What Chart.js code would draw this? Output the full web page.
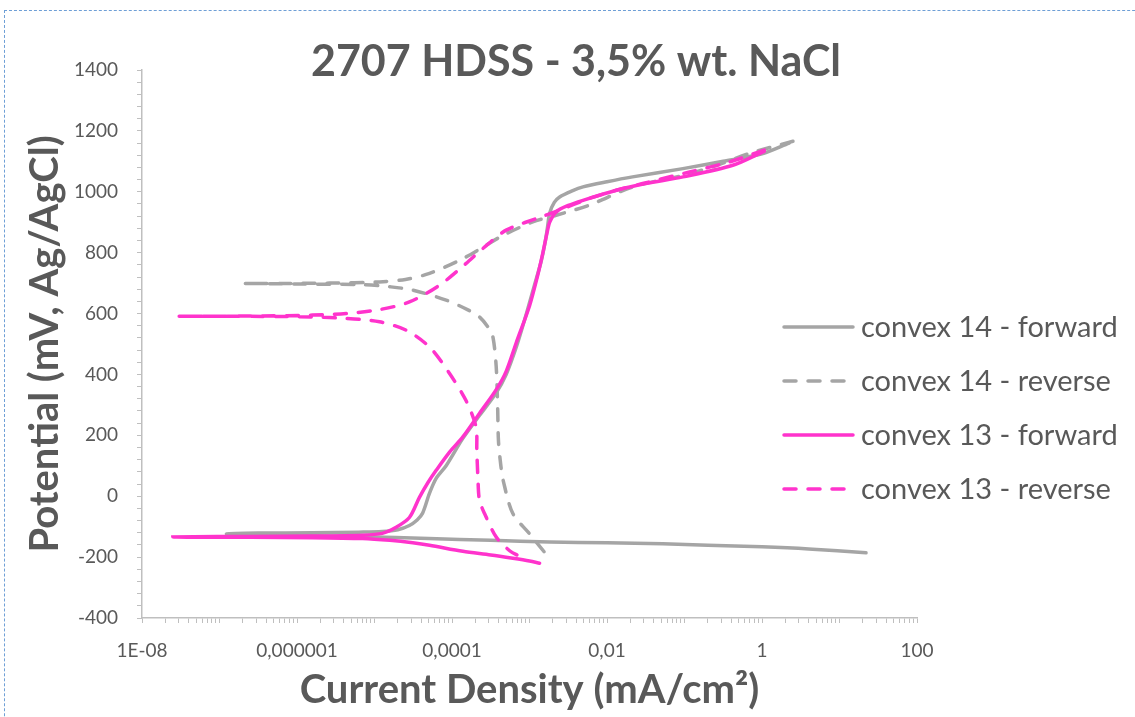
<!DOCTYPE html>
<html>
<head>
<meta charset="utf-8">
<script src="https://cdn.jsdelivr.net/npm/chart.js@4.4.1/dist/chart.umd.min.js"></script>
<style>
  html, body { margin: 0; padding: 0; background: #fff; }
  #wrap { position: relative; width: 1135px; height: 717px; overflow: hidden; }
  #frame { position: absolute; left: 4px; top: 10px; width: 1200px; height: 800px;
           border-top: 1px dashed #6e9fd6; border-left: 1px dashed #6e9fd6; pointer-events: none; }
</style>
</head>
<body>
<div id="wrap">
  <canvas id="myChart" width="1135" height="717"></canvas>
  <div id="frame"></div>
</div>
<script>
// Current density (mA/cm2) and potential (mV)
const c14fI = [22, 4.0, 1.0, 0.2, 5.25e-2, 1e-2, 1.82e-3, 3.16e-4, 5.0e-5, 7.1e-6, 1e-6, 2.5e-7, 1.23e-7,
  3.16e-7, 1.58e-6, 6.3e-6, 1.26e-5, 2.0e-5, 2.82e-5, 3.55e-5, 4.17e-5, 5.13e-5, 6.3e-5, 8.4e-5,
  1.38e-4, 2.26e-4, 3.72e-4, 5.0e-4, 6.76e-4, 8.9e-4, 1.12e-3, 1.41e-3, 1.58e-3, 1.70e-3, 1.82e-3,
  2.09e-3, 2.45e-3, 3.55e-3, 4.9e-3, 1e-2, 2.14e-2, 9.55e-2, 0.316, 1.0, 2.24];
const c14fE = [-186, -173, -166, -161, -156, -153, -150, -145, -139, -133, -129, -127, -124,
  -121, -120, -118, -116, -110, -96, -78, -56, 10, 60, 100,
  190, 265, 340, 400, 490, 590, 680, 770, 830, 880, 930,
  965, 983, 1003, 1016, 1033, 1049, 1076, 1100, 1125, 1160];

const c14rI = [2.51, 0.69, 0.25, 9.55e-2, 2.14e-2, 5.9e-3, 2.21e-3, 1.10e-3, 4.57e-4, 2.51e-4, 1.26e-4,
  5.13e-5, 2.51e-5, 1.16e-5, 2.63e-6, 6.3e-7, 2.09e-7, 1e-6, 7.1e-6, 1.58e-5, 3.13e-5, 8.4e-5,
  1.58e-4, 2.26e-4, 3.02e-4, 3.39e-4, 3.72e-4, 3.89e-4, 3.98e-4, 4.27e-4, 4.57e-4, 6.1e-4, 1e-3, 1.55e-3];
const c14rE = [1166, 1126, 1085, 1054, 1016, 956, 923, 901, 857, 818, 775,
  732, 712, 704, 700, 699, 699, 697, 695, 688, 677, 644,
  613, 589, 550, 520, 425, 283, 180, 100, 52, -57, -123, -183];

const c13fI = [1.35e-3, 1e-3, 6.1e-4, 3.16e-4, 1.38e-4, 5.13e-5, 3.12e-5, 1.58e-5, 7.0e-6, 1.58e-6, 2.5e-7,
  2.5e-8, 2.5e-7, 1.58e-6, 7.0e-6, 1.26e-5, 1.9e-5, 2.82e-5, 3.8e-5, 4.9e-5, 6.25e-5, 9.3e-5,
  1.38e-4, 2.26e-4, 3.72e-4, 5.0e-4, 6.76e-4, 1.0e-3, 1.26e-3, 1.48e-3, 1.70e-3, 1.82e-3, 2.21e-3,
  3.16e-3, 4.9e-3, 1.32e-2, 3.16e-2, 9.55e-2, 0.42, 1.07];
const c13fE = [-220, -213, -204, -193, -181, -161, -153, -145, -139, -136, -135,
  -134, -132, -131, -128, -122, -102, -70, -4, 45, 85, 145,
  195, 272, 350, 410, 505, 625, 720, 797, 870, 900, 934,
  955, 972, 1005, 1027, 1049, 1087, 1133];

const c13rI = [1.07, 0.38, 0.116, 2.88e-2, 1.32e-2, 5.9e-3, 2.45e-3, 1.23e-3, 5.0e-4, 2.51e-4, 1.51e-4,
  6.9e-5, 2.82e-5, 1.16e-5, 4.3e-6, 1.58e-6, 3.16e-7, 3.0e-8, 9.8e-7, 4.3e-6, 1.16e-5, 2.57e-5,
  5.13e-5, 9.3e-5, 1.51e-4, 2.04e-4, 2.09e-4, 2.16e-4, 2.26e-4, 2.63e-4, 3.72e-4, 5.6e-4, 7.4e-4];
const c13rE = [1137, 1098, 1065, 1027, 1005, 978, 940, 912, 874, 814, 764,
  693, 638, 613, 600, 595, 592, 591, 590, 584, 573, 545,
  490, 403, 315, 228, 150, 60, -13, -57, -134, -180, -197];

const seriesNames = ['convex 14 - forward', 'convex 14 - reverse', 'convex 13 - forward', 'convex 13 - reverse'];
const xLabelValues = [1e-8, 1e-6, 1e-4, 1e-2, 1, 100];
const xLabelTexts = ['1E-08', '0,000001', '0,0001', '0,01', '1', '100'];
const yMin = -400, yMax = 1400, yLabelStep = 200, yMinorStep = 40;

const GRAY = '#a5a5a5';
const PINK = '#ff33cc';
const TEXT = '#595959';
const AXIS = '#bfbfbf';
const DASH = [12, 12];

Chart.defaults.font.family = 'Lato';
Chart.defaults.color = TEXT;

function pts(xs, ys) {
  return xs.map((x, i) => ({x: x, y: ys[i]}));
}

//Title and legend drawn over the plot, the way Excel places them
const overlay = {
  id: 'overlay',
  afterDraw(chart, args, o) {
    const ctx = chart.ctx;
    ctx.save();
    ctx.fillStyle = TEXT;
    ctx.font = 'bold 43px Lato';
    ctx.textAlign = 'center';
    ctx.textBaseline = 'middle';
    ctx.fillText(o.title, o.titleX, o.titleY);

    ctx.textAlign = 'left';
    ctx.font = '29px Lato';
    chart.data.datasets.forEach((ds, i) => {
      const y = o.legendTop + i * o.legendGap;
      ctx.beginPath();
      ctx.strokeStyle = ds.borderColor;
      ctx.lineWidth = ds.borderWidth;
      ctx.lineCap = 'round';
      ctx.setLineDash(ds.borderDash || []);
      ctx.moveTo(o.legendX, y);
      ctx.lineTo(o.legendX + o.lineLen, y);
      ctx.stroke();
      ctx.setLineDash([]);
      ctx.fillStyle = TEXT;
      ctx.fillText(ds.label, o.legendX + o.lineLen + 8, y + 1);
    });
    ctx.restore();
  }
};

function lineSet(label, data, color, dashed, order) {
  return {
    label: label,
    data: data,
    showLine: true,
    borderColor: color,
    backgroundColor: color,
    borderWidth: 3.5,
    borderDash: dashed ? DASH : [],
    borderCapStyle: 'round',
    pointRadius: 0,
    pointHoverRadius: 0,
    tension: 0.3,
    fill: false,
    order: order
  };
}

new Chart('myChart', {
  type: 'scatter',
  data: {
    datasets: [
      lineSet(seriesNames[0], pts(c14fI, c14fE), GRAY, false, 4),
      lineSet(seriesNames[1], pts(c14rI, c14rE), GRAY, true, 3),
      lineSet(seriesNames[2], pts(c13fI, c13fE), PINK, false, 2),
      lineSet(seriesNames[3], pts(c13rI, c13rE), PINK, true, 1)
    ]
  },
  options: {
    responsive: false,
    devicePixelRatio: 1,
    animation: false,
    layout: { padding: { top: 70, right: 218, left: 0, bottom: 0 } },
    plugins: {
      legend: { display: false },
      tooltip: { enabled: false },
      overlay: {
        title: '2707 HDSS - 3,5% wt. NaCl',
        titleX: 576, titleY: 62,
        legendX: 784, legendTop: 327, legendGap: 54, lineLen: 69
      }
    },
    scales: {
      x: {
        type: 'logarithmic',
        min: 1e-8,
        max: 100,
        afterFit(scale) { scale.height = 99; },
        afterBuildTicks(scale) {
          const t = [];
          for (let e = -8; e <= 2; e++) {
            for (let m = 1; m <= 9; m++) {
              if (e === 2 && m > 1) break;
              t.push({value: m * Math.pow(10, e)});
            }
          }
          scale.ticks = t;
        },
        border: { color: AXIS, width: 1.5 },
        grid: { drawOnChartArea: false, drawTicks: true, tickLength: 5, tickColor: AXIS, tickWidth: 1 },
        ticks: {
          autoSkip: false,
          maxRotation: 0,
          padding: 16,
          font: { size: 19 },
          color: TEXT,
          callback(value) {
            const k = xLabelValues.findIndex(v => Math.abs(Math.log10(v) - Math.log10(value)) < 1e-6);
            return k >= 0 ? xLabelTexts[k] : '';
          }
        },
        title: {
          display: true,
          text: 'Current Density (mA/cm²)',
          color: TEXT,
          font: { size: 40, weight: 'bold' },
          padding: { top: 0, bottom: 3 }
        }
      },
      y: {
        type: 'linear',
        min: yMin,
        max: yMax,
        afterFit(scale) { scale.width = 142; },
        afterBuildTicks(scale) {
          const t = [];
          for (let v = yMin; v <= yMax; v += yMinorStep) t.push({value: v});
          scale.ticks = t;
        },
        border: { color: AXIS, width: 1.5 },
        grid: { drawOnChartArea: false, drawTicks: true, tickLength: 5, tickColor: AXIS, tickWidth: 1 },
        ticks: {
          autoSkip: false,
          padding: 19,
          font: { size: 19 },
          color: TEXT,
          callback(value) {
            return value % yLabelStep === 0 ? String(value) : '';
          }
        },
        title: {
          display: true,
          text: 'Potential (mV, Ag/AgCl)',
          color: TEXT,
          font: { size: 40, weight: 'bold' },
          padding: { top: 21, bottom: 0 }
        }
      }
    }
  },
  plugins: [overlay]
});
</script>
</body>
</html>
